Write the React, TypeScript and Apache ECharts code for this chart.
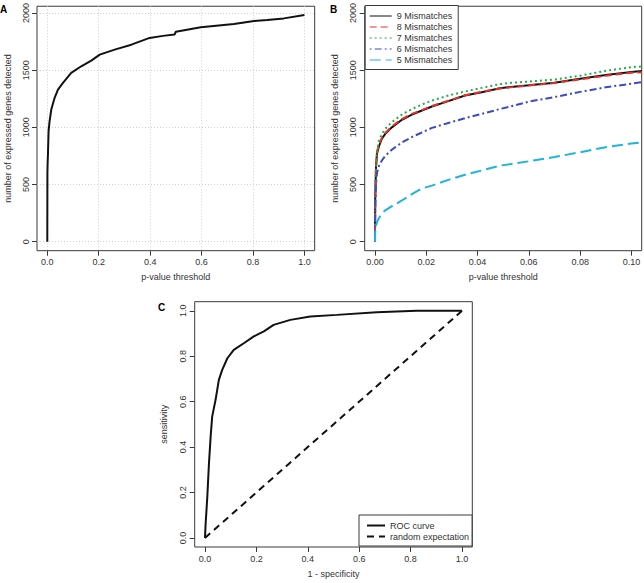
import React, { useEffect, useRef } from "react";
import * as echarts from "echarts";

// ---------- Panel A: all genes, p-value threshold 0..1 ----------
const aP = [0, 0.0005, 0.0015, 0.0026, 0.005, 0.009, 0.0156, 0.0285, 0.0415, 0.061, 0.093, 0.132, 0.171, 0.204, 0.262, 0.327, 0.398, 0.45, 0.495, 0.5, 0.597, 0.726, 0.804, 0.855, 0.92, 1.0];
const aGenes = [0, 600, 700, 763, 966, 1054, 1156, 1258, 1330, 1389, 1476, 1534, 1584, 1636, 1680, 1723, 1782, 1800, 1812, 1836, 1876, 1903, 1930, 1939, 1953, 1983];
const aXTicks = [0, 0.2, 0.4, 0.6, 0.8, 1.0];
const genesTicks = [0, 500, 1000, 1500, 2000];

// ---------- Panel B: mismatch levels, p-value threshold 0..0.1 ----------
const bP = [0, 0.0001, 0.0004, 0.0008, 0.0015, 0.0027, 0.004, 0.0066, 0.0105, 0.0144, 0.0183, 0.0222, 0.0286, 0.0351, 0.0416, 0.0487, 0.055, 0.06, 0.07, 0.08, 0.09, 0.1, 0.104];
const mm9 = [0, 360, 650, 770, 830, 900, 943, 1000, 1066, 1112, 1147, 1182, 1229, 1278, 1307, 1342, 1358, 1368, 1390, 1425, 1458, 1484, 1492];
const mm8 = [0, 380, 660, 785, 840, 910, 950, 1008, 1072, 1118, 1150, 1186, 1232, 1280, 1310, 1340, 1355, 1366, 1388, 1420, 1452, 1478, 1482];
const mm7 = [0, 390, 652, 798, 880, 940, 987, 1045, 1112, 1160, 1200, 1234, 1278, 1313, 1345, 1378, 1393, 1400, 1418, 1452, 1494, 1527, 1532];
const mm6 = [0, 303, 507, 600, 660, 710, 750, 805, 867, 915, 955, 995, 1038, 1080, 1117, 1160, 1195, 1225, 1265, 1310, 1350, 1382, 1395];
const mm5 = [0, 84, 140, 172, 205, 245, 274, 310, 360, 415, 465, 490, 540, 585, 622, 665, 685, 703, 740, 782, 826, 858, 868];
const bXTicks = [0, 0.02, 0.04, 0.06, 0.08, 0.1];
const mmNames = ["9 Mismatches", "8 Mismatches", "7 Mismatches", "6 Mismatches", "5 Mismatches"];

// ---------- Panel C: ROC ----------
const rocFpr = [0, 0.0026, 0.009, 0.0155, 0.022, 0.028, 0.041, 0.054, 0.067, 0.087, 0.112, 0.151, 0.19, 0.229, 0.267, 0.332, 0.41, 0.513, 0.668, 0.823, 1];
const rocTpr = [0, 0.063, 0.18, 0.328, 0.446, 0.534, 0.607, 0.696, 0.74, 0.791, 0.828, 0.857, 0.887, 0.909, 0.938, 0.96, 0.975, 0.982, 0.994, 1, 1];
const diagX = [0, 1];
const diagY = [0, 1];
const unitTicks = [0, 0.2, 0.4, 0.6, 0.8, 1.0];

const FONT = '"Liberation Sans", Arial, Helvetica, sans-serif';
const BOX = "#3a3a3a";
const TXT = "#333";

const zip = (xs: number[], ys: number[]) => xs.map((x, i) => [x, ys[i]]);

function axis(
  gridIndex: number,
  min: number,
  max: number,
  ticks: number[],
  digits: number,
  name: string,
  nameGap: number,
  isY: boolean,
  grid: boolean
) {
  return {
    type: "value",
    gridIndex,
    min,
    max,
    name,
    nameLocation: "middle",
    nameGap,
    nameTextStyle: { fontSize: 9, color: TXT, fontFamily: FONT },
    axisLine: { show: false, onZero: false },
    axisTick: {
      show: true,
      inside: false,
      customValues: ticks,
      length: 5,
      lineStyle: { color: BOX, width: 1 },
    },
    axisLabel: {
      show: true,
      customValues: ticks,
      formatter: (v: number) => v.toFixed(digits),
      fontSize: 9,
      color: TXT,
      fontFamily: FONT,
      margin: 7,
      rotate: isY ? 90 : 0,
      hideOverlap: false,
    },
    splitLine: {
      show: grid,
      lineStyle: { color: "#cfcfcf", type: [1, 2], width: 1 },
    },
  };
}

export default function App() {
  const ref = useRef<HTMLDivElement>(null);

  useEffect(() => {
    if (!ref.current) return;
    const chart = echarts.init(ref.current, undefined, { renderer: "svg" });

    const gridBase = { show: true, borderColor: BOX, borderWidth: 1, backgroundColor: "transparent", containLabel: false };
    const gyMin = -79.2;
    const gyMax = 2059.2;

    const mmData = [mm9, mm8, mm7, mm6, mm5];
    const mmColors = ["#111111", "#e8302a", "#1fae4a", "#3a4cc0", "#1eb6d8"];
    const mmDash: any[] = ["solid", [7, 4], [2, 3], [2, 3, 7, 3], [11, 5]];

    const hiddenSymbol = { color: "transparent", borderColor: "transparent", borderWidth: 0, opacity: 0 };

    const option: any = {
      animation: false,
      textStyle: { fontFamily: FONT },
      graphic: [
        { type: "text", left: 0, top: 4, style: { text: "A", fontSize: 10, fontWeight: "bold", fill: "#000", fontFamily: FONT } },
        { type: "text", left: 330, top: 4, style: { text: "B", fontSize: 10, fontWeight: "bold", fill: "#000", fontFamily: FONT } },
        { type: "text", left: 158, top: 302, style: { text: "C", fontSize: 10, fontWeight: "bold", fill: "#000", fontFamily: FONT } },
      ],
      grid: [
        { ...gridBase, left: 37, top: 5.5, width: 277.7, height: 245.2 },
        { ...gridBase, left: 364.7, top: 5.5, width: 277, height: 245.2 },
        { ...gridBase, left: 194.7, top: 301.7, width: 277.6, height: 245.3 },
      ],
      xAxis: [
        axis(0, -0.04, 1.04, aXTicks, 1, "p-value threshold", 22, false, true),
        axis(1, -0.004, 0.104, bXTicks, 2, "p-value threshold", 22, false, false),
        axis(2, -0.04, 1.04, unitTicks, 1, "1 - specificity", 22, false, false),
      ],
      yAxis: [
        axis(0, gyMin, gyMax, genesTicks, 0, "number of expressed genes detected", 25, true, true),
        axis(1, gyMin, gyMax, genesTicks, 0, "number of expressed genes detected", 25, true, false),
        axis(2, -0.04, 1.04, unitTicks, 1, "sensitivity", 26, true, false),
      ],
      legend: [
        {
          data: mmNames,
          orient: "vertical",
          left: 365.2,
          top: 5.5,
          padding: [6, 6, 5, 4],
          itemWidth: 22,
          itemHeight: 9,
          itemGap: 2,
          borderColor: BOX,
          borderWidth: 1,
          borderRadius: 0,
          backgroundColor: "#fff",
          selectedMode: false,
          lineStyle: { width: 1 },
          itemStyle: hiddenSymbol,
          textStyle: { fontSize: 9, color: TXT, fontFamily: FONT },
        },
        {
          data: ["ROC curve", "random expectation"],
          orient: "vertical",
          left: 359,
          top: 515,
          padding: [6, 3, 5, 7],
          itemWidth: 18,
          itemHeight: 9,
          itemGap: 2,
          borderColor: BOX,
          borderWidth: 1,
          borderRadius: 0,
          backgroundColor: "#fff",
          selectedMode: false,
          itemStyle: hiddenSymbol,
          textStyle: { fontSize: 9, color: TXT, fontFamily: FONT },
        },
      ],
      series: [
        {
          name: "all genes",
          type: "line",
          xAxisIndex: 0,
          yAxisIndex: 0,
          data: zip(aP, aGenes),
          symbol: "none",
          lineStyle: { color: "#111", width: 2 },
          itemStyle: { color: "#111" },
        },
        ...mmData.map((d, i) => ({
          name: mmNames[i],
          type: "line",
          xAxisIndex: 1,
          yAxisIndex: 1,
          data: zip(bP, d),
          symbol: "none",
          lineStyle: { color: mmColors[i], width: 2, type: mmDash[i] },
          itemStyle: { color: mmColors[i] },
        })),
        {
          name: "ROC curve",
          type: "line",
          xAxisIndex: 2,
          yAxisIndex: 2,
          data: zip(rocFpr, rocTpr),
          symbol: "none",
          lineStyle: { color: "#111", width: 2 },
          itemStyle: { color: "#111" },
        },
        {
          name: "random expectation",
          type: "line",
          xAxisIndex: 2,
          yAxisIndex: 2,
          data: zip(diagX, diagY),
          symbol: "none",
          lineStyle: { color: "#111", width: 2, type: [7, 5] },
          itemStyle: { color: "#111" },
        },
      ],
    };

    chart.setOption(option);
    return () => chart.dispose();
  }, []);

  return (
    <div
      ref={ref}
      style={{ position: "absolute", left: 0, top: 0, width: 644, height: 583, background: "#fff" }}
    />
  );
}
